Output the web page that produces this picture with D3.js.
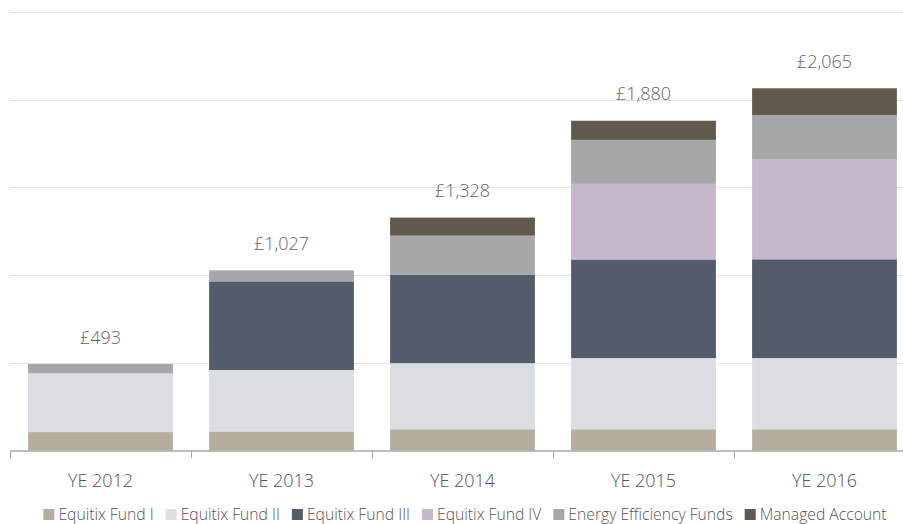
<!DOCTYPE html>
<html>
<head>
<meta charset="utf-8">
<script src="https://cdn.jsdelivr.net/npm/d3@7"></script>
<style>
  html, body { margin: 0; padding: 0; background: #fff; }
  svg { display: block; font-family: "Open Sans", "Noto Sans", sans-serif; }
</style>
</head>
<body>
<svg id="chart" width="903" height="524"></svg>
<script>
const categories = ["YE 2012", "YE 2013", "YE 2014", "YE 2015", "YE 2016"];
const seriesNames = ["Equitix Fund I", "Equitix Fund II", "Equitix Fund III", "Equitix Fund IV", "Energy Efficiency Funds", "Managed Account"];
const fundI   = [105, 109, 121, 121, 121];
const fundII  = [335, 350, 377, 406, 406];
const fundIII = [0, 505, 505, 562, 563];
const fundIV  = [0, 0, 0, 431, 572];
const energy  = [53, 63, 222, 251, 251];
const managed = [0, 0, 103, 109, 152];
const totalLabels = ["£493", "£1,027", "£1,328", "£1,880", "£2,065"];
const yTicks = [0, 500, 1000, 1500, 2000, 2500];
const colors = ["#b5ae9f", "#dadde2", "#535c6b", "#c5b7cc", "#a6a7a9", "#615a4c"];

const seriesValues = [fundI, fundII, fundIII, fundIV, energy, managed];
const rows = categories.map((c, i) => {
  const r = { cat: c, label: totalLabels[i] };
  seriesNames.forEach((s, k) => r[s] = seriesValues[k][i]);
  return r;
});

const svg = d3.select("#chart");
const x = d3.scaleBand().domain(categories).range([10, 915]).paddingInner(0.2).paddingOuter(0.1);
const y = d3.scaleLinear().domain([0, 2500]).range([450.5, 12]);

// gridlines
svg.append("g").selectAll("line").data(yTicks.slice(1)).join("line")
  .attr("x1", 10).attr("x2", 915)
  .attr("y1", d => Math.round(y(d)) + 0.5).attr("y2", d => Math.round(y(d)) + 0.5)
  .attr("stroke", "#e3e3e3").attr("stroke-width", 1.2);

const stack = d3.stack().keys(seriesNames)(rows);
svg.append("g").selectAll("g").data(stack).join("g")
  .attr("fill", (d, i) => colors[i])
  .selectAll("rect").data(d => d).join("rect")
  .attr("x", d => x(d.data.cat))
  .attr("width", x.bandwidth())
  .attr("y", d => y(d[1]))
  .attr("height", d => Math.max(0, y(d[0]) - y(d[1])));

// total labels
svg.append("g").selectAll("text").data(rows).join("text")
  .attr("x", d => x(d.cat) + x.bandwidth() / 2)
  .attr("y", (d, i) => y(d3.sum(seriesValues, s => s[i])) - 20.5)
  .attr("text-anchor", "middle")
  .attr("font-size", 18).attr("font-weight", 300)
  .attr("fill", "#666")
  .text(d => d.label);

// x axis
const step = x.step();
const axis = svg.append("g");
axis.append("line").attr("x1", 10).attr("x2", 915).attr("y1", 451).attr("y2", 451)
  .attr("stroke", "#a8a8a8").attr("stroke-width", 1.5);
const boundaries = categories.map(c => x(c) - step * 0.1).concat([x(categories[4]) + x.bandwidth() + step * 0.1]);
axis.selectAll("line.tick").data(boundaries).join("line").attr("class", "tick")
  .attr("x1", d => Math.round(d) + 0.5).attr("x2", d => Math.round(d) + 0.5)
  .attr("y1", 451).attr("y2", 458)
  .attr("stroke", "#a8a8a8").attr("stroke-width", 1);
axis.selectAll("text").data(categories).join("text")
  .attr("x", d => x(d) + x.bandwidth() / 2)
  .attr("y", 487)
  .attr("text-anchor", "middle")
  .attr("font-size", 18).attr("font-weight", 300)
  .attr("fill", "#555")
  .text(d => d);

// legend
const legend = svg.append("g");
const items = legend.selectAll("g").data(seriesNames).join("g");
items.append("rect").attr("width", 11).attr("height", 11).attr("y", 509)
  .attr("fill", (d, i) => colors[i]);
items.append("text").attr("x", 15).attr("y", 519.5)
  .attr("font-size", 15.7).attr("font-weight", 300).attr("fill", "#555")
  .text(d => d);
let widths = [];
items.each(function () { widths.push(this.querySelector("text").getComputedTextLength()); });
const gap = 12;
const total = d3.sum(widths) + widths.length * 15 + (widths.length - 1) * gap;
let cx = 465 - total / 2;
items.attr("transform", (d, i) => {
  const t = `translate(${cx},0)`;
  cx += 15 + widths[i] + gap;
  return t;
});
</script>
</body>
</html>
